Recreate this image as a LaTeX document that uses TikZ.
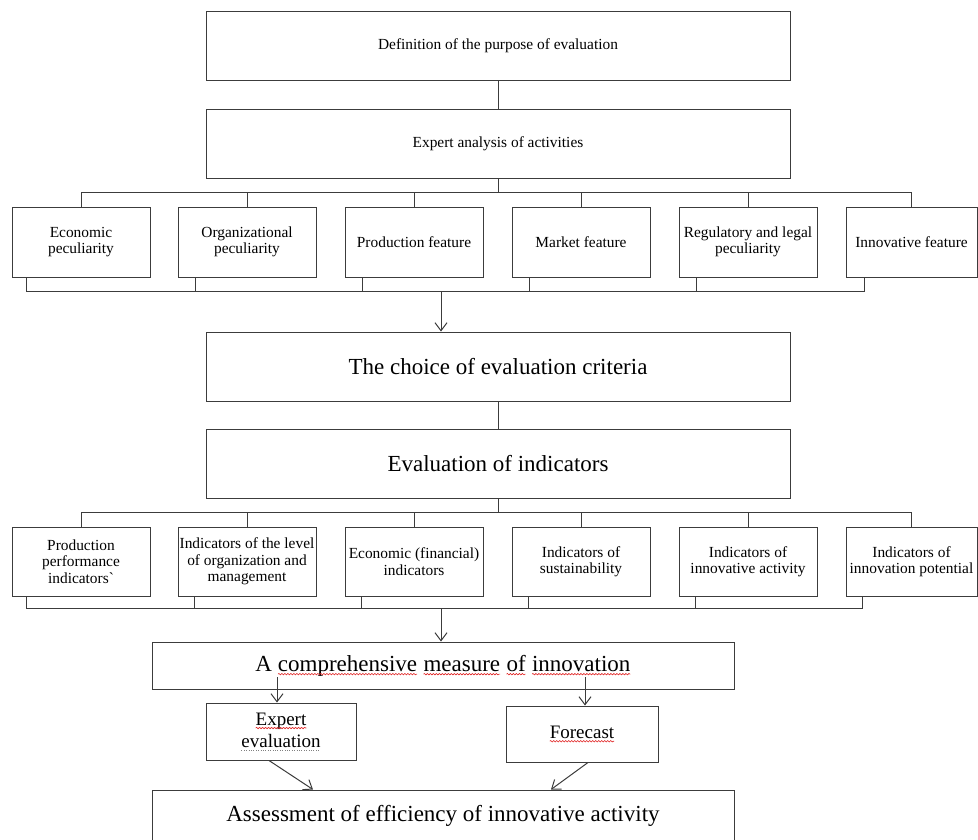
\documentclass[tikz,border=0pt]{standalone}
\usepackage{fontspec}
\setmainfont{Liberation Serif}
\usetikzlibrary{arrows.meta,calc,decorations.pathmorphing}
\definecolor{ln}{HTML}{3C3C3C}
\definecolor{sq}{HTML}{E02020}
\newcommand{\smallf}{\fontsize{15.4}{16.5}\selectfont}
\newcommand{\midf}{\fontsize{19}{22}\selectfont}
\newcommand{\bigf}{\fontsize{23}{26}\selectfont}
\tikzset{
  box/.style={draw=ln, line width=1pt, inner sep=0pt, align=center},
  wide/.style={box, minimum width=584pt, minimum height=69pt},
  fbox/.style={box, minimum width=138pt, minimum height=70pt, font=\smallf},
  ibox/.style={box, minimum width=138pt, minimum height=69pt, font=\smallf},
  bus/.style={ln, line width=1pt},
  arr/.style={ln, line width=1pt, -{Straight Barb[length=8pt, width=12pt]}},
  word/.style={draw=none, inner sep=0pt, outer sep=0pt, minimum width=0pt, minimum height=0pt, anchor=base},
  wave/.style={sq, line width=0.6pt, decorate, decoration={snake, amplitude=0.7pt, segment length=3pt}},
  dots/.style={gray, line width=0.8pt, dash pattern=on 0.8pt off 1.6pt},
}
% spell-check marks under words
\newcommand{\sqw}[1]{\tikz[baseline=(w.base)]{\node[word] (w) at (0,0) {#1};
  \draw[wave] ([yshift=-3pt]w.base west) -- ([yshift=-3pt]w.base east);}}
\newcommand{\sqd}[1]{\tikz[baseline=(w.base)]{\node[word] (w) at (0,0) {#1};
  \draw[dots] ([yshift=-3pt]w.base west) -- ([yshift=-3pt]w.base east);}}

\begin{document}
\begin{tikzpicture}[x=1pt, y=-1pt]
  \useasboundingbox (0,0) rectangle (978,839);
  \node[wide, font=\smallf] (purp) at (498,45.5) {Definition of the purpose of evaluation};
  \node[wide, font=\smallf] (anal) at (498,143.5) {Expert analysis of activities};
  \draw[bus] (purp) -- (anal);
  % features
  \node[fbox] (f1) at (81,242) {Economic\\peculiarity};
  \node[fbox] (f2) at (247,242) {Organizational\\peculiarity};
  \node[fbox] (f3) at (414,242) {Production feature};
  \node[fbox] (f4) at (581,242) {Market feature};
  \node[fbox] (f5) at (748,242) {Regulatory and legal\\peculiarity};
  \node[fbox, minimum width=131pt] (f6) at (911.5,242) {Innovative feature};
  \coordinate (t1) at (498,193);
  \draw[bus] (anal.south) -- (t1);
  \draw[bus] (f1.north) -- ++(0,-14) -| (f6.north);
  \foreach \f in {f2,f3,f4,f5} \draw[bus] (\f.north) -- ++(0,-14);
  \draw[bus] ([xshift=15pt]f1.south west) -- ++(0,14) -| ([xshift=19pt]f6.south west);
  \foreach \f in {f2,f3,f4,f5} \draw[bus] ([xshift=18pt]\f.south west) -- ++(0,14);
  \coordinate (j1) at (441,291);
  % criteria
  \node[wide, font=\bigf] (crit) at (498,366.5) {The choice of evaluation criteria};
  \draw[arr] (j1) -- (j1 |- crit.north);
  \node[wide, font=\bigf] (indi) at (498,463.5) {Evaluation of indicators};
  \draw[bus] (crit) -- (indi);
  % indicators
  \node[ibox] (i1) at (81,561.5) {Production\\performance\\indicators\textasciigrave};
  \node[ibox] (i2) at (247,561.5) {Indicators of the level\\of organization and\\management};
  \node[ibox] (i3) at (414,561.5) {Economic (financial)\\indicators};
  \node[ibox] (i4) at (581,561.5) {Indicators of\\sustainability};
  \node[ibox] (i5) at (748,561.5) {Indicators of\\innovative activity};
  \node[ibox, minimum width=131pt] (i6) at (911.5,561.5) {Indicators of\\innovation potential};
  \coordinate (t2) at (498,513);
  \draw[bus] (indi.south) -- (t2);
  \draw[bus] (i1.north) -- ++(0,-14) -| (i6.north);
  \foreach \f in {i2,i3,i4,i5} \draw[bus] (\f.north) -- ++(0,-14);
  \draw[bus] ([xshift=15pt]i1.south west) -- ++(0,12) -| ([xshift=17pt]i6.south west);
  \foreach \f in {i2,i3,i4,i5} \draw[bus] ([xshift=17pt]\f.south west) -- ++(0,12);
  \coordinate (j2) at (441,608);
  % result
  \node[box, minimum width=582pt, minimum height=47pt, font=\bigf] (meas) at (443,665.5)
    {A \sqw{comprehensive} \sqw{measure} \sqw{of} \sqw{innovation}};
  \draw[arr] (j2) -- (j2 |- meas.north);
  \node[box, minimum width=150pt, minimum height=57pt, font=\midf] (expe) at (281,731.5)
    {\sqw{Expert}\\\sqd{evaluation}};
  \node[box, minimum width=152pt, minimum height=56pt, font=\midf] (fore) at (582,734) {\sqw{Forecast}};
  \coordinate (m1) at (277,677);
  \coordinate (m2) at (585,677);
  \draw[arr] (m1) -- (m1 |- expe.north);
  \draw[arr] (m2) -- (m2 |- fore.north);
  \node[box, minimum width=582pt, minimum height=52pt, font=\bigf] (asse) at (443,816)
    {Assessment of efficiency of innovative activity};
  \draw[arr] ([xshift=-12pt]expe.south) -- ([xshift=-130pt]asse.north);
  \draw[arr] ([xshift=6pt]fore.south) -- ([xshift=108pt]asse.north);
\end{tikzpicture}
\end{document}
